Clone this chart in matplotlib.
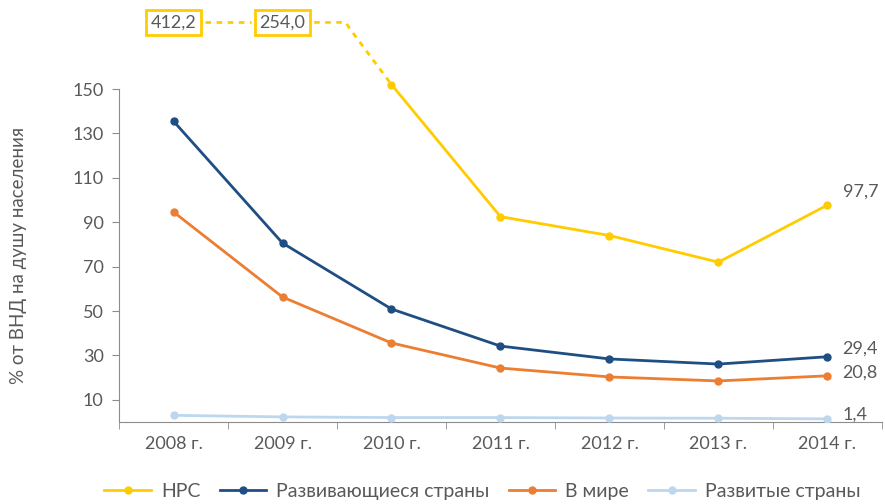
import matplotlib.pyplot as plt

years = ["2008 г.", "2009 г.", "2010 г.", "2011 г.", "2012 г.", "2013 г.", "2014 г."]
hpc = [412.2, 254.0, 152.0, 92.5, 84.0, 72.0, 97.7]
developing = [135.5, 80.6, 50.9, 34.2, 28.4, 26.1, 29.4]
world = [94.6, 56.3, 35.6, 24.3, 20.3, 18.5, 20.8]
developed = [3.0, 2.3, 2.0, 2.0, 1.8, 1.7, 1.4]

C_HPC = "#FFCC00"
C_DEV = "#1F4E83"
C_WORLD = "#ED7D31"
C_DEVD = "#BDD7EE"
TXT = "#595959"
AXC = "#8C8C8C"

plt.rcParams["font.family"] = ["Lato", "DejaVu Sans"]

fig = plt.figure(figsize=(8.85, 5.04), dpi=100)
ax = fig.add_axes([0.1345, 0.1627, 0.862, 0.6607])

x = list(range(len(years)))
ymax = 150

# HPC: only the in-range part is drawn as a solid line
ax.plot(x[2:], hpc[2:], color=C_HPC, lw=2, marker="o", ms=5, label="НРС", zorder=4,
        clip_on=False)
ax.plot(x, developing, color=C_DEV, lw=2, marker="o", ms=5, label="Развивающиеся страны", zorder=3)
ax.plot(x, world, color=C_WORLD, lw=2, marker="o", ms=5, label="В мире", zorder=3)
ax.plot(x, developed, color=C_DEVD, lw=2, marker="o", ms=5, label="Развитые страны", zorder=3)

# off-scale HPC values shown as boxed labels with dashed connector
box_y = 180
for i in (0, 1):
    ax.text(x[i], box_y, f"{hpc[i]:.1f}".replace(".", ","), ha="center", va="center",
            fontsize=13, color=TXT, clip_on=False,
            bbox=dict(boxstyle="square,pad=0.25", fc="white", ec=C_HPC, lw=2))
ax.plot([x[0] + 0.29, x[1] - 0.29], [box_y, box_y], color=C_HPC, lw=2,
        ls=(0, (2, 2)), clip_on=False)
ax.plot([x[1] + 0.29, x[1] + 0.58, x[1] + 0.62, x[2]], [box_y, box_y, 177, hpc[2]],
        color=C_HPC, lw=2, ls=(0, (2, 2)), clip_on=False)

# end labels
for vals, dy in ((hpc, 10), (developing, 6), (world, 2), (developed, 3)):
    ax.annotate(f"{vals[-1]:.1f}".replace(".", ","), (x[-1], vals[-1]),
                xytext=(11, dy), textcoords="offset points", ha="left", va="center",
                fontsize=13, color=TXT, annotation_clip=False)

ax.set_xlim(-0.5, 6.5)
ax.set_ylim(0, ymax)
ax.set_yticks(range(10, 151, 20))
ax.set_xticks(x)
ax.set_xticklabels(years)
ax.set_xticks([i - 0.5 for i in range(len(years) + 1)], minor=True)
ax.tick_params(axis="x", which="major", length=0, pad=10, labelsize=13, labelcolor=TXT)
ax.tick_params(axis="x", which="minor", length=5, color=AXC, direction="out")
ax.tick_params(axis="y", length=5, color=AXC, labelsize=13, labelcolor=TXT, pad=6)

for s in ("top", "right"):
    ax.spines[s].set_visible(False)
for s in ("left", "bottom"):
    ax.spines[s].set_color(AXC)

ax.set_ylabel("% от ВНД на душу населения", fontsize=13.5, color=TXT, labelpad=33)

fig.legend(loc="lower center", bbox_to_anchor=(0.545, -0.027), ncol=4, frameon=False,
           fontsize=14, labelcolor=TXT, handlelength=2.4, handletextpad=0.5,
           columnspacing=1.0)

fig.savefig("out.png", dpi=100)
